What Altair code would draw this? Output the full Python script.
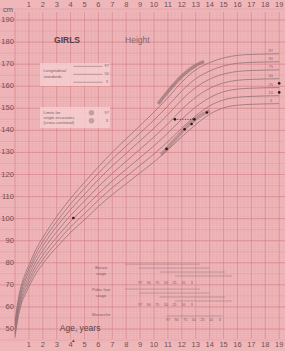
import altair as alt
import pandas as pd

# ---------------- data ----------------
ages = [0, 0.25, 0.5, 0.75, 1, 1.5, 2, 2.5, 3, 4, 5, 6, 7, 8, 9, 10, 11, 12, 13, 14, 15, 16, 17, 18, 19]
c97 = [53.6, 64.0, 70.8, 75.2, 78.9, 86.0, 91.5, 96.4, 101.0, 109.2, 116.5, 123.5, 130.1, 136.2, 142.2, 148.3, 154.8, 161.9, 167.4, 170.7, 172.8, 174.0, 174.4, 174.6, 174.7]
c90 = [52.4, 62.7, 69.4, 73.7, 77.3, 84.2, 89.6, 94.4, 98.7, 106.7, 113.8, 120.6, 127.0, 132.9, 138.8, 144.7, 151.1, 157.9, 163.4, 166.9, 169.2, 170.4, 170.8, 171.0, 171.1]
c75 = [51.3, 61.4, 68.0, 72.2, 75.7, 82.4, 87.6, 92.3, 96.5, 104.2, 111.0, 117.7, 123.9, 129.6, 135.3, 141.0, 147.2, 153.9, 159.4, 163.2, 165.5, 166.7, 167.1, 167.3, 167.4]
c50 = [50, 60, 66.5, 70.5, 74, 80.5, 85.5, 90, 94, 101.5, 108, 114.5, 120.5, 126, 131.5, 137, 143, 149.5, 155, 159, 161.5, 162.7, 163.1, 163.3, 163.4]
c25 = [48.7, 58.6, 65.0, 68.8, 72.3, 78.6, 83.4, 87.7, 91.5, 98.8, 105.0, 111.3, 117.1, 122.4, 127.7, 133.0, 138.8, 145.1, 150.6, 154.8, 157.5, 158.7, 159.1, 159.3, 159.4]
c10 = [47.6, 57.3, 63.6, 67.3, 70.7, 76.8, 81.4, 85.6, 89.3, 96.3, 102.2, 108.4, 114.0, 119.1, 124.2, 129.3, 134.9, 141.1, 146.6, 151.1, 153.8, 155.0, 155.4, 155.6, 155.7]
c3 = [46.4, 56.0, 62.2, 65.8, 69.1, 75.0, 79.5, 83.6, 87.0, 93.8, 99.5, 105.5, 110.9, 115.8, 120.8, 125.7, 131.2, 137.1, 142.6, 147.3, 150.2, 151.4, 151.8, 152.0, 152.1]
centile_names = ["97", "90", "75", "50", "25", "10", "3"]

early_ages = [10.3, 10.8, 11.3, 11.8, 12.3, 12.8, 13.3, 13.6]
early_cm = [152.0, 156.0, 159.8, 163.3, 166.2, 168.6, 170.4, 171.2]
late_ages = [10.5, 11, 11.5, 12, 12.5, 13, 13.5, 14]
late_cm = [129.0, 132.3, 135.8, 139.3, 142.5, 145.2, 147.3, 149.0]

pt_age = [4.2, 10.9, 11.5, 12.2, 12.7, 12.9, 13.8, 19.0, 19.0]
pt_cm = [100.3, 131.6, 145.0, 140.5, 142.9, 145.0, 148.1, 161.3, 157.2]
dot_age = [11.5, 12.9]
dot_cm = [145.0, 145.0]

year_ticks = list(range(1, 20))
cm_ticks = list(range(50, 200, 10))

# ---------------- scales ----------------
xs = alt.Scale(domain=[-1.079, 19.42], nice=False, zero=False)
ys = alt.Scale(domain=[40.03, 199.07], nice=False, zero=False)
FONT = "Liberation Sans"
BG = "#f0b7ba"
GRID = "#dc949a"
MAJOR = "#d48089"
CURVE = "#937277"
TXT = "#6e4f54"


def X(f="a"):
    return alt.X(f"{f}:Q", scale=xs, axis=None)


def Y(f="c"):
    return alt.Y(f"{f}:Q", scale=ys, axis=None)


layers = []

# grid: horizontal
h_minor = pd.DataFrame({"c": [v for v in range(44, 196)]})
layers.append(alt.Chart(h_minor).mark_rule(color=GRID, strokeWidth=0.5, opacity=0.35).encode(
    x=alt.value(0), x2=alt.value(285), y=Y()))
h_five = pd.DataFrame({"c": [v for v in range(45, 196, 5)]})
layers.append(alt.Chart(h_five).mark_rule(color=GRID, strokeWidth=0.6, opacity=0.6).encode(
    x=alt.value(0), x2=alt.value(285), y=Y()))
h_major = pd.DataFrame({"c": cm_ticks})
layers.append(alt.Chart(h_major).mark_rule(color=MAJOR, strokeWidth=0.8, opacity=0.7).encode(
    x=alt.value(0), x2=alt.value(285), y=Y()))
# grid: vertical
v_minor = pd.DataFrame({"a": [q / 4 for q in range(0, 77)]})
layers.append(alt.Chart(v_minor).mark_rule(color=GRID, strokeWidth=0.5, opacity=0.35).encode(
    x=X(), y=alt.value(12), y2=alt.value(339)))
v_major = pd.DataFrame({"a": list(range(0, 20))})
layers.append(alt.Chart(v_major).mark_rule(color=MAJOR, strokeWidth=0.8, opacity=0.7).encode(
    x=X(), y=alt.value(12), y2=alt.value(339)))

# legend boxes
boxes = pd.DataFrame({"a": [1.8, 1.8], "a2": [6.83, 6.83], "c": [170.5, 150.6], "c2": [160.1, 141.1]})
layers.append(alt.Chart(boxes).mark_rect(color="#f6d0d2", opacity=0.8).encode(
    x=X(), x2="a2:Q", y=Y(), y2="c2:Q"))
leg_lines = pd.DataFrame({"a": [4.2, 4.2, 4.2], "a2": [6.3, 6.3, 6.3], "c": [169.0, 165.4, 161.8]})
layers.append(alt.Chart(leg_lines).mark_rule(color=CURVE, strokeWidth=0.6).encode(
    x=X(), x2="a2:Q", y=Y()))
leg_ov = pd.DataFrame({"a": [5.5, 5.5], "c": [148.0, 144.4]})
layers.append(alt.Chart(leg_ov).mark_point(shape="circle", filled=True, color="#a58287", size=30, opacity=0.6).encode(
    x=X(), y=Y()))

# centile curves
rows = []
for name, vals in zip(centile_names, [c97, c90, c75, c50, c25, c10, c3]):
    for a, v in zip(ages, vals):
        rows.append({"a": a, "c": v, "k": name})
cur = pd.DataFrame(rows)
layers.append(alt.Chart(cur).mark_line(color=CURVE, strokeWidth=0.8, interpolate="monotone").encode(
    x=X(), y=Y(), detail="k:N"))

# maturity bands
eb = pd.DataFrame({"a": early_ages, "c": early_cm})
layers.append(alt.Chart(eb).mark_line(color="#86666b", strokeWidth=3.4, opacity=0.6, interpolate="monotone").encode(
    x=X(), y=Y()))
lb = pd.DataFrame({"a": late_ages, "c": late_cm})
layers.append(alt.Chart(lb).mark_line(color="#86666b", strokeWidth=3.4, opacity=0.45, interpolate="monotone").encode(
    x=X(), y=Y()))

# puberty ranges (bottom right)
pub = pd.DataFrame({
    "a": [7.9, 8.9, 10.4, 11.5, 7.9, 8.9, 10.4, 11.5, 10.9],
    "a2": [13.3, 14.0, 15.1, 15.6, 13.3, 14.0, 15.1, 15.6, 14.9],
    "c": [79.4, 77.6, 75.8, 74.0, 68.1, 66.3, 64.5, 62.7, 55.9],
})
layers.append(alt.Chart(pub).mark_rule(color="#a07d82", strokeWidth=0.6).encode(
    x=X(), x2="a2:Q", y=Y()))
row_lbl = []
for base_a, base_c in [(9.0, 70.8), (9.0, 60.9), (11.0, 54.1)]:
    for i, t in enumerate(centile_names):
        row_lbl.append({"a": base_a + i * 0.62, "c": base_c, "t": t})
layers.append(alt.Chart(pd.DataFrame(row_lbl)).mark_text(font=FONT, fontSize=3.6, color="#7a5a5f").encode(
    x=X(), y=Y(), text="t:N"))

# data points
pts = pd.DataFrame({"a": pt_age, "c": pt_cm})
layers.append(alt.Chart(pts).mark_point(filled=True, color="#2a1a1c", size=7, opacity=1).encode(x=X(), y=Y()))
dl = pd.DataFrame({"a": dot_age, "c": dot_cm})
layers.append(alt.Chart(dl).mark_line(color="#2a1a1c", strokeWidth=0.8, strokeDash=[1, 1.5]).encode(x=X(), y=Y()))
tri = pd.DataFrame({"a": [4.2], "c": [44.7]})
layers.append(alt.Chart(tri).mark_point(shape="triangle-up", filled=True, color="#2a1a1c", size=8).encode(x=X(), y=Y()))

# tick labels
top = pd.DataFrame({"a": year_ticks, "c": [196.8] * len(year_ticks), "t": [str(v) for v in year_ticks]})
layers.append(alt.Chart(top).mark_text(font=FONT, fontSize=7.5, color=TXT).encode(x=X(), y=Y(), text="t:N"))
bot = pd.DataFrame({"a": year_ticks, "c": [42.75] * len(year_ticks), "t": [str(v) for v in year_ticks]})
layers.append(alt.Chart(bot).mark_text(font=FONT, fontSize=7.5, color=TXT).encode(x=X(), y=Y(), text="t:N"))
left = pd.DataFrame({"a": [-0.08] * len(cm_ticks), "c": cm_ticks, "t": [str(v) for v in cm_ticks]})
layers.append(alt.Chart(left).mark_text(font=FONT, fontSize=7.5, color=TXT, align="right").encode(x=X(), y=Y(), text="t:N"))

# right centile labels
rl = pd.DataFrame({"a": [18.4] * 7, "c": [c97[-1], c90[-1], c75[-1], c50[-1], c25[-1], c10[-1], c3[-1]],
                   "t": centile_names})
layers.append(alt.Chart(rl).mark_text(font=FONT, fontSize=4.2, color="#8b6c70", dy=-3).encode(x=X(), y=Y(), text="t:N"))

# texts
txt = pd.DataFrame({
    "a": [-0.5, 3.74, 8.8, 2.05, 2.05, 2.05, 2.05, 2.05, 6.2, 6.2, 6.2, 6.2, 6.2],
    "c": [194.4, 180.9, 180.9, 167.0, 164.3, 148.0, 145.7, 143.4, 77.8, 75.1, 67.6, 64.9, 56.4],
    "t": ["cm", "GIRLS", "Height", "Longitudinal", "standards", "Limits for", "single occasions",
          "(cross-sectional)", "Breast", "stage", "Pubic hair", "stage", "Menarche"],
})
layers.append(alt.Chart(txt.iloc[[0]]).mark_text(font=FONT, fontSize=7.5, color=TXT).encode(x=X(), y=Y(), text="t:N"))
layers.append(alt.Chart(txt.iloc[[1]]).mark_text(font=FONT, fontSize=8.5, fontWeight="bold", color="#5a3c41").encode(x=X(), y=Y(), text="t:N"))
layers.append(alt.Chart(txt.iloc[[2]]).mark_text(font=FONT, fontSize=8.5, color="#86666b").encode(x=X(), y=Y(), text="t:N"))
layers.append(alt.Chart(txt.iloc[3:8]).mark_text(font=FONT, fontSize=4.2, color="#7d5e63", align="left").encode(x=X(), y=Y(), text="t:N"))
layers.append(alt.Chart(txt.iloc[8:13]).mark_text(font=FONT, fontSize=4.2, color="#7d5e63", align="center").encode(x=X(), y=Y(), text="t:N"))
leg_lbl = pd.DataFrame({"a": [6.6, 6.6, 6.6, 6.6, 6.6], "c": [169.0, 165.4, 161.8, 148.0, 144.4],
                        "t": ["97", "50", "3", "97", "3"]})
layers.append(alt.Chart(leg_lbl).mark_text(font=FONT, fontSize=4.0, color="#7d5e63").encode(x=X(), y=Y(), text="t:N"))
age_t = pd.DataFrame({"a": [4.68], "c": [50.6], "t": ["Age, years"]})
layers.append(alt.Chart(age_t).mark_text(font=FONT, fontSize=8.5, color="#5e4247").encode(x=X(), y=Y(), text="t:N"))

chart = alt.layer(*layers).properties(
    width=285, height=351, autosize="none", padding=0, background=BG
).configure_view(stroke=None)

chart.save("out.html", embed_options={"renderer": "svg", "actions": False})
